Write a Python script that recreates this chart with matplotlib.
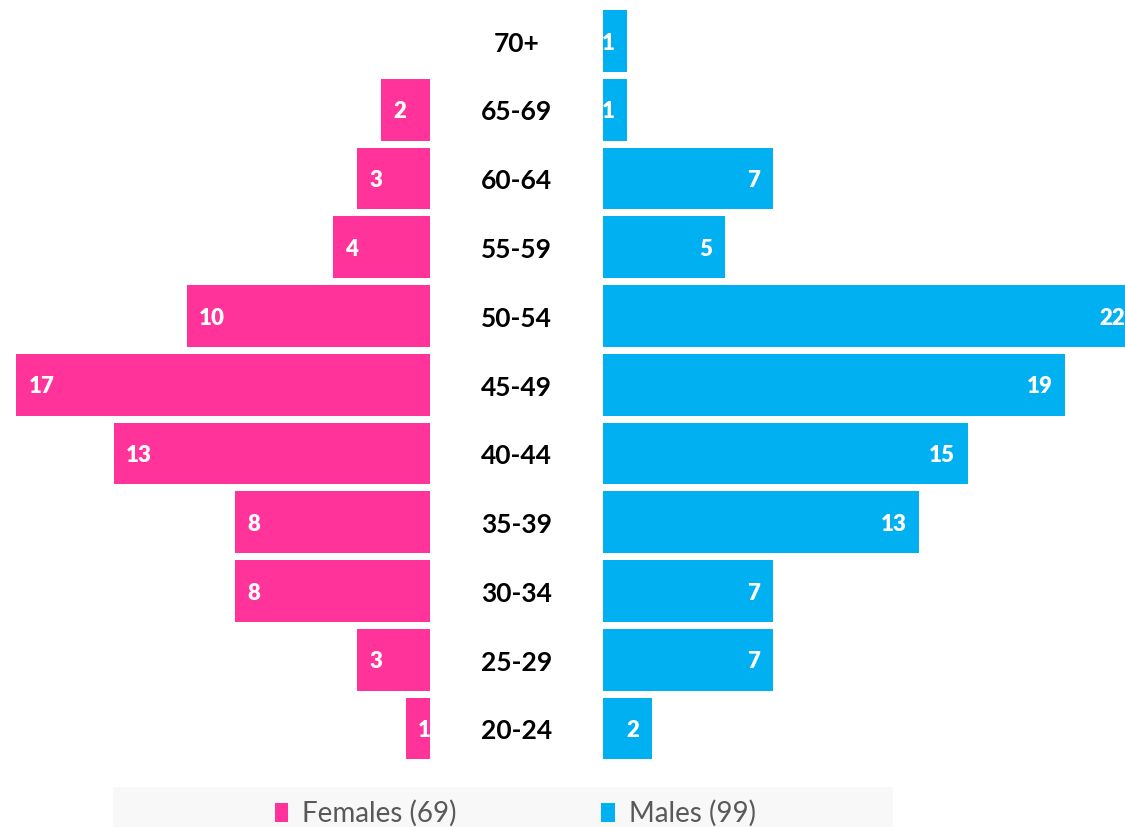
import numpy as np
import matplotlib
matplotlib.use("Agg")
from matplotlib import pyplot as plt
from matplotlib.patches import Rectangle, Patch

# dados
age_groups = ["20-24", "25-29", "30-34", "35-39", "40-44", "45-49",
              "50-54", "55-59", "60-64", "65-69", "70+"]
females = [1, 3, 8, 8, 13, 17, 10, 4, 3, 2, 0]
males = [2, 7, 7, 13, 15, 19, 22, 5, 7, 1, 1]

pink = "#FF3399"
blue = "#00B0F0"

plt.rcParams['font.family'] = ['Lato', 'DejaVu Sans']

fig = plt.figure(figsize=(11.25, 8.27), dpi=100)
ax = fig.add_axes([0, 0.0775, 1, 0.9145])

# meio espaco entre as barras (em unidades de dados)
gap = 3.555
y = np.arange(len(age_groups))
fem = np.array(females)
mal = np.array(males)

ax.barh(y, -fem, left=-gap, height=0.9, color=pink)
ax.barh(y, mal, left=gap, height=0.9, color=blue)

# rotulos das barras
for i in range(len(y)):
    ax.text(0, y[i] - 0.04, age_groups[i], ha='center', va='center',
            fontsize=19, fontweight='bold', color='black')
    if fem[i] > 0:
        ax.text(-gap - fem[i] + 0.5, y[i] - 0.03, str(fem[i]), ha='left', va='center',
                fontsize=16, fontweight='heavy', color='white')
    if mal[i] > 0:
        ax.text(gap + mal[i] - 0.53, y[i] - 0.03, str(mal[i]), ha='right', va='center',
                fontsize=16, fontweight='heavy', color='white')

ax.set_xlim(-21.23, 25.01)
ax.set_ylim(-0.5, 10.5)
ax.axis('off')

# legenda com fundo cinza
fig.patches.append(Rectangle((113 / 1125, 0), (893 - 113) / 1125, 40 / 827,
                             transform=fig.transFigure, facecolor='#F8F8F8',
                             edgecolor='none', zorder=0))
handles = [Patch(facecolor=pink, label="Females (69)"),
           Patch(facecolor=blue, label="Males (99)")]
fig.legend(handles=handles, loc='center', bbox_to_anchor=(0.458, 0.016),
           ncol=2, frameon=False, fontsize=20, handlelength=0.5,
           handleheight=0.7, handletextpad=0.5, columnspacing=5.2,
           labelcolor='#595959')

fig.savefig("out.png", dpi=100)
